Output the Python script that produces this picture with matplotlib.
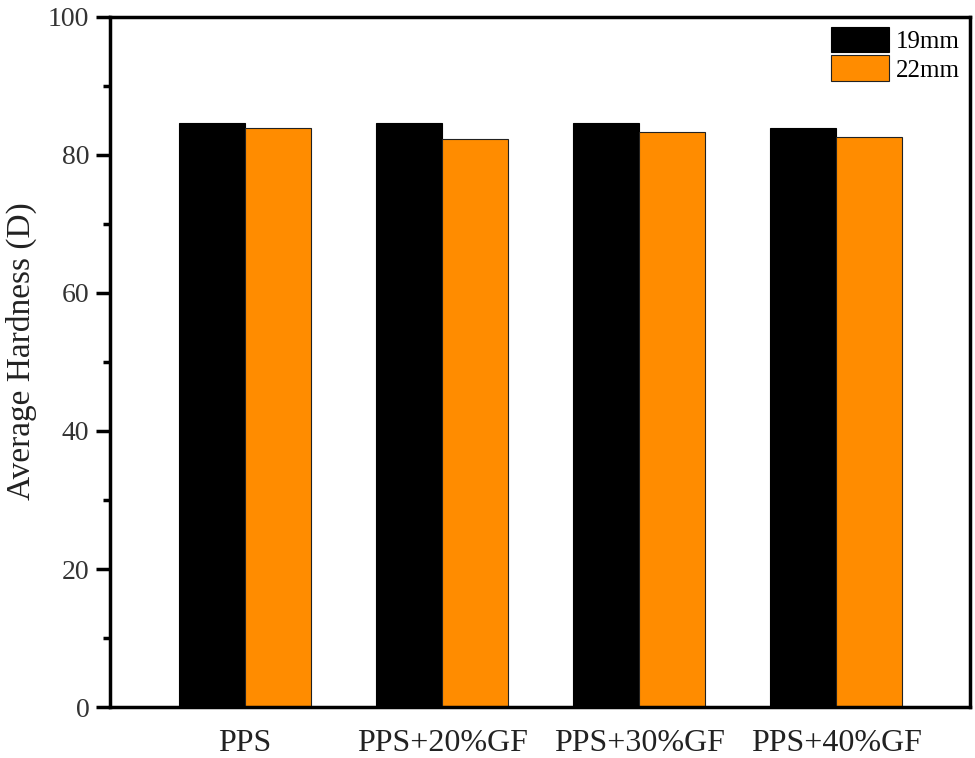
import numpy as np
import matplotlib.pyplot as plt
from matplotlib.ticker import MultipleLocator

plt.rcParams["font.family"] = ["Liberation Serif", "DejaVu Serif"]

categories = ["PPS", "PPS+20%GF", "PPS+30%GF", "PPS+40%GF"]
hard_19mm = [84.6, 84.6, 84.6, 83.9]
hard_22mm = [83.9, 82.3, 83.3, 82.6]

fig = plt.figure(figsize=(9.75, 7.58), dpi=100)
ax = fig.add_axes([0.113, 0.067, 0.882, 0.911])

x = np.arange(len(categories))
w = 0.335
ax.bar(x - w / 2, hard_19mm, w, color="black", edgecolor="black", linewidth=0.8, label="19mm")
ax.bar(x + w / 2, hard_22mm, w, color="#ff8c00", edgecolor="#222222", linewidth=0.8, label="22mm")

ax.set_xlim(-0.685, 3.68)
ax.set_ylim(0, 100)
ax.yaxis.set_major_locator(MultipleLocator(20))
ax.yaxis.set_minor_locator(MultipleLocator(10))
ax.set_xticks(x)
ax.set_xticklabels(categories, fontsize=23, color="#222222")
ax.tick_params(axis="x", length=0, pad=16)
ax.tick_params(axis="y", which="major", direction="out", length=10, width=2.5,
               labelsize=20, pad=5, labelcolor="#333333")
ax.tick_params(axis="y", which="minor", direction="out", length=5, width=2.5)
for s in ax.spines.values():
    s.set_linewidth(2.5)

ax.set_ylabel("Average Hardness (D)", fontsize=24, color="#222222")
ax.yaxis.set_label_coords(-0.085, 0.515)

ax.legend(loc="upper right", fontsize=18, frameon=False, handlelength=2.3,
          handleheight=1.2, labelspacing=0.1, handletextpad=0.3,
          borderaxespad=0.2, borderpad=0.2)

fig.savefig("out.png", dpi=100)
